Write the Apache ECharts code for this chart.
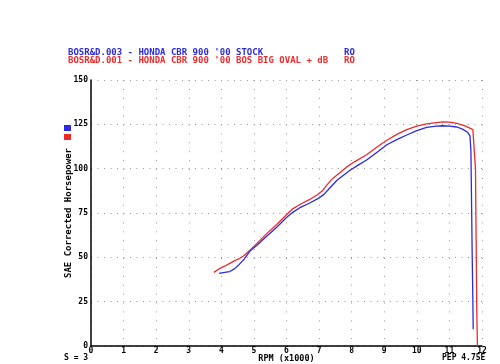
<!DOCTYPE html>
<html>
<head>
<meta charset="utf-8">
<script src="https://cdn.jsdelivr.net/npm/echarts@6/dist/echarts.min.js"></script>
<style>
html, body { margin: 0; padding: 0; background: #fff; }
#myChart { width: 500px; height: 364px; }
</style>
</head>
<body>
<div id="myChart"></div>
<script>
// run names and colours
var runNames = ["BOSR&D.003 - HONDA CBR 900 '00 STOCK", "BOSR&D.001 - HONDA CBR 900 '00 BOS BIG OVAL + dB"];
var runColors = ["#2a2ae0", "#ee2a2a"];

// x axis: RPM (x1000), y axis: SAE corrected horsepower
var xTicks = [0, 1, 2, 3, 4, 5, 6, 7, 8, 9, 10, 11, 12];
var yTicks = [0, 25, 50, 75, 100, 125, 150];

var stockRpm = [3.93, 4.1, 4.26, 4.4, 4.55, 4.7, 4.88, 5.1, 5.4, 5.7, 6.0, 6.2, 6.41, 6.7, 7.02, 7.15, 7.3, 7.55, 7.94, 8.2, 8.47, 8.8, 9.08, 9.4, 9.69, 10.0, 10.3, 10.6, 10.8, 11.0, 11.23, 11.4, 11.56, 11.63, 11.66, 11.68, 11.7, 11.72, 11.73];
var stockHp = [41, 41.5, 42, 43.5, 46, 49, 53.5, 57, 62, 67, 72.5, 75.5, 78, 80.5, 83.7, 85.5, 88.5, 93.5, 99, 102, 105, 109.5, 113.5, 116.5, 119, 121.5, 123.3, 124, 124.2, 124, 123.5, 122.3, 120.5, 118.5, 110, 80, 50, 25, 9.5];

var bosRpm = [3.77, 3.96, 4.1, 4.26, 4.4, 4.57, 4.7, 4.88, 5.1, 5.4, 5.7, 6.0, 6.2, 6.41, 6.7, 6.96, 7.1, 7.25, 7.42, 7.85, 8.1, 8.47, 8.8, 9.08, 9.4, 9.69, 10.0, 10.3, 10.6, 10.8, 11.0, 11.23, 11.5, 11.72, 11.78, 11.8, 11.82, 11.84, 11.86];
var bosHp = [41.5, 43.8, 45, 46.6, 48, 49.5, 51, 54, 58, 63.5, 68.5, 74, 77.5, 79.8, 82.5, 85.4, 87.5, 91, 94.5, 101, 104, 108, 112.5, 116, 119.5, 122, 124, 125.3, 126, 126.4, 126.2, 125.5, 124, 122, 121, 100, 60, 20, 0];

function pairs(xs, ys) {
	var out = [];
	for (var i = 0; i < xs.length; i++) {
		out[out.length] = [xs[i], ys[i]];
	}
	return out;
}

var font = "DejaVu Sans Mono";
var txt = function(color, size) {
	return { fontFamily: font, fontSize: size || 9, fontWeight: 'bold', color: color };
};

var myChart = echarts.init(document.getElementById('myChart'));

var option = {
	backgroundColor: '#ffffff',
	animation: false,
	title: [
		{ text: runNames[0], left: 68, top: 48, padding: 0, textStyle: txt(runColors[0]) },
		{ text: 'RO', left: 344, top: 48, padding: 0, textStyle: txt(runColors[0]) },
		{ text: runNames[1], left: 68, top: 56, padding: 0, textStyle: txt(runColors[1]) },
		{ text: 'RO', left: 344, top: 56, padding: 0, textStyle: txt(runColors[1]) },
		{ text: 'S = 3', left: 64, top: 354, padding: 0, textStyle: txt('#000', 8) },
		{ text: 'PEP 4.75E', left: 442, top: 354, padding: 0, textStyle: txt('#000', 8) }
	],
	legend: {
		orient: 'vertical',
		left: 64,
		top: 125,
		padding: 0,
		itemWidth: 7,
		itemHeight: 6,
		itemGap: 3,
		icon: 'rect',
		formatter: function() { return ''; },
		data: [runNames[0], runNames[1]]
	},
	grid: { left: 91, top: 80, width: 391, height: 266, outerBoundsMode: 'none', containLabel: false },
	xAxis: {
		type: 'value',
		min: 0,
		max: 12,
		interval: 1,
		name: 'RPM (x1000)',
		nameLocation: 'middle',
		nameGap: 8,
		nameMoveOverlap: false,
		nameTextStyle: txt('#000', 8.5),
		axisLine: { lineStyle: { color: '#000', width: 1.5 } },
		axisTick: { show: false },
		axisLabel: { fontFamily: font, fontSize: 8, fontWeight: 'bold', color: '#000', margin: 1 },
		splitLine: { show: true, lineStyle: { color: '#999', width: 1, type: [1, 7.9] } }
	},
	yAxis: {
		type: 'value',
		min: 0,
		max: 150,
		interval: 25,
		name: 'SAE Corrected Horsepower',
		nameLocation: 'middle',
		nameGap: 18,
		nameMoveOverlap: false,
		nameTextStyle: txt('#000', 9),
		axisLine: { show: true, lineStyle: { color: '#000', width: 1.5 } },
		axisTick: { show: false },
		axisLabel: { fontFamily: font, fontSize: 8, fontWeight: 'bold', color: '#000', margin: 3 },
		splitLine: { show: true, lineStyle: { color: '#999', width: 1, type: [1, 5.5] } }
	},
	series: [
		{
			name: runNames[0],
			type: 'line',
			symbol: 'none',
			data: pairs(stockRpm, stockHp),
			itemStyle: { color: runColors[0] },
			lineStyle: { color: runColors[0], width: 1.3 },
			z: 3
		},
		{
			name: runNames[1],
			type: 'line',
			symbol: 'none',
			data: pairs(bosRpm, bosHp),
			itemStyle: { color: runColors[1] },
			lineStyle: { color: runColors[1], width: 1.3 },
			z: 2
		}
	]
};

myChart.setOption(option);
</script>
</body>
</html>
